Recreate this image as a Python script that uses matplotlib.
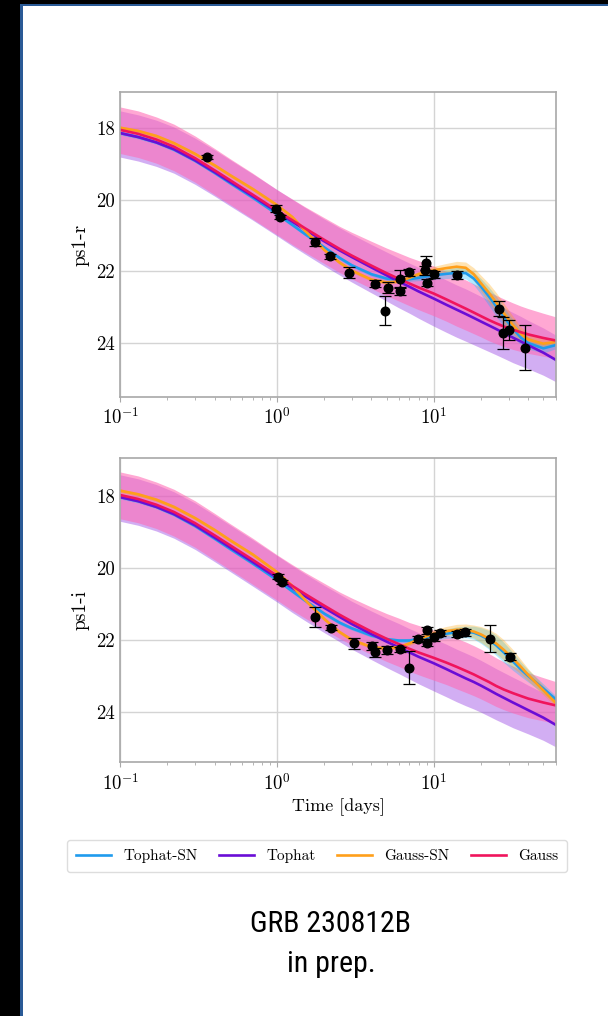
import matplotlib
matplotlib.use("Agg")
import matplotlib.pyplot as plt
from matplotlib.patches import Rectangle
from matplotlib.lines import Line2D

plt.rcParams['font.family'] = 'serif'
plt.rcParams['font.serif'] = ['cmr10']
plt.rcParams['mathtext.fontset'] = 'cm'
plt.rcParams['axes.unicode_minus'] = False

# ---------------- data ----------------
model_names = ["Tophat-SN", "Tophat", "Gauss-SN", "Gauss"]
model_colors = ["#1f9bed", "#6a0dd6", "#ff9f1a", "#f0145c"]
band_colors = ["#00bfff", "#8a2be2", "#ffa500", "#ff69b4"]

T = [0.1, 0.13, 0.17, 0.22, 0.3, 0.4, 0.5, 0.7, 1.0, 1.25, 1.5, 2.0, 2.5, 3.0, 4.0, 5.0, 6.0,
     7.0, 8.0, 10, 12, 14, 16, 18, 20, 22.5, 25, 28, 32, 36, 40, 50, 60]

# ps1-r model light curves
r_tophat_sn = [18.14, 18.25, 18.40, 18.60, 18.91, 19.25, 19.53, 19.94, 20.40, 20.70, 20.95,
               21.33, 21.62, 21.83, 22.08, 22.20, 22.24, 22.22, 22.18, 22.11, 22.07, 22.04,
               22.05, 22.20, 22.42, 22.70, 22.97, 23.27, 23.60, 23.85, 24.00, 24.15, 24.06]
r_tophat = [18.14, 18.25, 18.40, 18.59, 18.90, 19.23, 19.50, 19.90, 20.34, 20.61, 20.83,
            21.16, 21.41, 21.60, 21.89, 22.11, 22.29, 22.43, 22.56, 22.76, 22.93, 23.07,
            23.19, 23.30, 23.40, 23.51, 23.61, 23.72, 23.85, 23.96, 24.06, 24.27, 24.47]
r_gauss_sn = [17.99, 18.08, 18.22, 18.42, 18.72, 19.04, 19.31, 19.70, 20.15, 20.48, 20.85,
              21.40, 21.75, 21.98, 22.23, 22.31, 22.28, 22.18, 22.08, 21.97, 21.91, 21.87,
              21.90, 22.08, 22.33, 22.60, 22.87, 23.17, 23.50, 23.75, 23.90, 24.02, 23.97]
r_gauss = [18.05, 18.16, 18.32, 18.52, 18.84, 19.18, 19.45, 19.86, 20.30, 20.57, 20.79,
           21.12, 21.37, 21.56, 21.84, 22.05, 22.21, 22.34, 22.45, 22.62, 22.78, 22.92,
           23.04, 23.15, 23.25, 23.36, 23.45, 23.54, 23.63, 23.70, 23.76, 23.86, 23.93]

# ps1-i model light curves
i_tophat_sn = [18.04, 18.15, 18.31, 18.52, 18.84, 19.19, 19.47, 19.88, 20.34, 20.65, 20.90,
               21.27, 21.52, 21.68, 21.88, 21.98, 22.02, 22.02, 21.98, 21.90, 21.83, 21.79,
               21.78, 21.80, 21.88, 22.00, 22.15, 22.35, 22.60, 22.82, 23.00, 23.35, 23.65]
i_tophat = [18.04, 18.15, 18.31, 18.51, 18.82, 19.16, 19.43, 19.84, 20.28, 20.56, 20.78,
            21.11, 21.36, 21.56, 21.84, 22.05, 22.21, 22.35, 22.47, 22.65, 22.81, 22.95,
            23.07, 23.17, 23.27, 23.39, 23.50, 23.61, 23.74, 23.85, 23.95, 24.16, 24.36]
i_gauss_sn = [17.86, 17.96, 18.11, 18.31, 18.62, 18.95, 19.23, 19.63, 20.12, 20.50, 20.88,
              21.42, 21.78, 22.00, 22.20, 22.24, 22.20, 22.10, 21.98, 21.83, 21.76, 21.72,
              21.72, 21.77, 21.85, 21.97, 22.10, 22.28, 22.52, 22.75, 22.97, 23.40, 23.75]
i_gauss = [17.98, 18.09, 18.25, 18.45, 18.76, 19.10, 19.37, 19.78, 20.22, 20.50, 20.72,
           21.05, 21.30, 21.49, 21.77, 21.97, 22.12, 22.25, 22.35, 22.50, 22.63, 22.75,
           22.86, 22.96, 23.06, 23.17, 23.28, 23.38, 23.48, 23.56, 23.63, 23.74, 23.82]

# band half-widths (mag): brighter side / fainter side
gauss_up = [0.64, 0.64, 0.63, 0.63, 0.62, 0.61, 0.60, 0.60, 0.58, 0.59, 0.60, 0.62, 0.63,
            0.65, 0.68, 0.70, 0.72, 0.73, 0.75, 0.77, 0.78, 0.79, 0.80, 0.80, 0.80, 0.79,
            0.78, 0.77, 0.75, 0.73, 0.72, 0.69, 0.66]
gauss_dn = [0.66, 0.66, 0.66, 0.67, 0.67, 0.68, 0.68, 0.68, 0.68, 0.68, 0.67, 0.66, 0.66,
            0.65, 0.64, 0.63, 0.62, 0.62, 0.62, 0.62, 0.61, 0.61, 0.60, 0.59, 0.58, 0.58,
            0.57, 0.56, 0.55, 0.54, 0.53, 0.51, 0.50]
tophat_up = [0.62, 0.62, 0.62, 0.62, 0.62, 0.62, 0.62, 0.62, 0.62, 0.62, 0.62, 0.62, 0.63,
             0.63, 0.64, 0.65, 0.66, 0.66, 0.67, 0.68, 0.69, 0.69, 0.70, 0.70, 0.70, 0.70,
             0.70, 0.70, 0.70, 0.70, 0.69, 0.69, 0.69]
tophat_dn = [0.67, 0.67, 0.67, 0.67, 0.67, 0.67, 0.67, 0.67, 0.67, 0.68, 0.68, 0.69, 0.69,
             0.70, 0.71, 0.72, 0.73, 0.74, 0.75, 0.77, 0.77, 0.77, 0.76, 0.75, 0.74, 0.73,
             0.72, 0.71, 0.70, 0.68, 0.66, 0.63, 0.61]
sn_w = [0.05, 0.05, 0.05, 0.05, 0.05, 0.05, 0.05, 0.05, 0.05, 0.05, 0.05, 0.05, 0.05,
        0.05, 0.05, 0.05, 0.05, 0.06, 0.08, 0.11, 0.13, 0.15, 0.16, 0.18, 0.22, 0.26,
        0.28, 0.28, 0.25, 0.20, 0.17, 0.13, 0.10]

# observations ps1-r
r_obs_t = [0.356, 0.985, 1.045, 1.74, 2.18, 2.89, 4.2, 4.86, 5.1, 6.07, 6.07, 6.92,
           8.8, 8.97, 9.07, 10.1, 14.1, 26.1, 27.8, 30.4, 38.3]
r_obs_m = [18.81, 20.25, 20.48, 21.18, 21.58, 22.04, 22.34, 23.10, 22.46, 22.22, 22.55, 22.03,
           21.97, 21.76, 22.32, 22.08, 22.10, 23.04, 23.72, 23.64, 24.13]
r_obs_e = [0.05, 0.10, 0.05, 0.10, 0.07, 0.15, 0.10, 0.41, 0.15, 0.25, 0.12, 0.10,
           0.12, 0.19, 0.10, 0.10, 0.12, 0.20, 0.44, 0.28, 0.63]

# observations ps1-i
i_obs_t = [1.02, 1.07, 1.75, 2.21, 3.1, 4.06, 4.2, 5.03, 6.07, 6.98, 7.9, 9.03,
           9.07, 9.99, 10.97, 14.1, 15.9, 22.9, 30.5]
i_obs_m = [20.25, 20.39, 21.36, 21.66, 22.10, 22.17, 22.35, 22.28, 22.26, 22.77, 21.97, 21.74,
           22.08, 21.93, 21.82, 21.83, 21.79, 21.97, 22.47]
i_obs_e = [0.07, 0.05, 0.28, 0.08, 0.15, 0.12, 0.12, 0.12, 0.07, 0.45, 0.08, 0.10,
           0.10, 0.10, 0.08, 0.08, 0.10, 0.37, 0.10]

xticks = [0.1, 1, 10]
xtick_labels = [r'$10^{-1}$', r'$10^{0}$', r'$10^{1}$']
yticks = [18, 20, 22, 24]
ytick_labels = ['18', '20', '22', '24']

# ---------------- figure ----------------
fig = plt.figure(figsize=(6.08, 10.16), dpi=100)
fig.patch.set_facecolor('white')

W, H = 608.0, 1016.0
# slide frame
fig.add_artist(Rectangle((0, 0), 20 / W, 1, transform=fig.transFigure,
                         facecolor='black', edgecolor='none', zorder=0))
fig.add_artist(Rectangle((0, 1 - 4 / H), 1, 4 / H, transform=fig.transFigure,
                         facecolor='black', edgecolor='none', zorder=0))
fig.add_artist(Rectangle((20 / W, 0), 2.5 / W, 1 - 4 / H, transform=fig.transFigure,
                         facecolor='#2a5a96', edgecolor='none', zorder=0))
fig.add_artist(Rectangle((20 / W, 1 - 6 / H), 1 - 20 / W, 2 / H, transform=fig.transFigure,
                         facecolor='#2a5a96', edgecolor='none', zorder=0))

ax_r = fig.add_axes([120.3 / W, 1 - 396.7 / H, 435.4 / W, 304.4 / H])
ax_i = fig.add_axes([120.3 / W, 1 - 762.3 / H, 435.4 / W, 304.0 / H])

panels = [
    (ax_r, 'ps1-r', [r_tophat_sn, r_tophat, r_gauss_sn, r_gauss],
     r_obs_t, r_obs_m, r_obs_e, (25.5, 17.0)),
    (ax_i, 'ps1-i', [i_tophat_sn, i_tophat, i_gauss_sn, i_gauss],
     i_obs_t, i_obs_m, i_obs_e, (25.4, 16.96)),
]

for ax, lab, models, ot, om, oe, ylim in panels:
    tsn, th, gsn, g = models
    # credible bands
    ax.fill_between(T, [m - u for m, u in zip(th, tophat_up)],
                    [m + d for m, d in zip(th, tophat_dn)],
                    color=band_colors[1], alpha=0.38, lw=0, zorder=1)
    ax.fill_between(T, [m - u for m, u in zip(g, gauss_up)],
                    [m + d for m, d in zip(g, gauss_dn)],
                    color=band_colors[3], alpha=0.58, lw=0, zorder=1.1)
    ax.fill_between(T, [m - w for m, w in zip(tsn, sn_w)],
                    [m + w for m, w in zip(tsn, sn_w)],
                    color=band_colors[0], alpha=0.3, lw=0, zorder=1.2)
    ax.fill_between(T, [m - w for m, w in zip(gsn, sn_w)],
                    [m + w for m, w in zip(gsn, sn_w)],
                    color=band_colors[2], alpha=0.3, lw=0, zorder=1.3)
    # model lines
    for mdl, col, z in zip(models, model_colors, [2, 2.1, 2.2, 2.3]):
        ax.plot(T, mdl, color=col, lw=1.9, zorder=z, solid_joinstyle='round')
    # observations
    ax.errorbar(ot, om, yerr=oe, fmt='o', color='black', ms=6.2, elinewidth=0.9,
                capsize=4.2, capthick=0.9, zorder=5)

    ax.set_xscale('log')
    ax.set_xlim(0.1, 60)
    ax.set_ylim(*ylim)
    ax.set_xticks(xticks)
    ax.set_xticklabels(xtick_labels)
    ax.set_yticks(yticks)
    ax.set_yticklabels(ytick_labels)
    ax.set_axisbelow(True)
    ax.grid(True, which='major', color='#d4d4d4', lw=1.0)
    for s in ax.spines.values():
        s.set_color('#a8a8a8')
        s.set_linewidth(1.2)
    ax.tick_params(axis='x', which='major', length=3.5, color='#a8a8a8', labelsize=13.5, pad=4)
    ax.tick_params(axis='x', which='minor', length=2.5, color='#a8a8a8')
    ax.tick_params(axis='y', which='both', length=0, labelsize=13.5, pad=4)
    ax.set_ylabel(lab, fontsize=14, labelpad=5)

ax_i.set_xlabel('Time [days]', fontsize=13, labelpad=3)

handles = [Line2D([0], [0], color=c, lw=1.9) for c in model_colors]
leg = fig.legend(handles, model_names, loc='center', ncol=4,
                 bbox_to_anchor=(317 / W, 1 - 856 / H), fontsize=11,
                 frameon=True, fancybox=True, framealpha=1.0, edgecolor='#dddddd',
                 handlelength=2.3, columnspacing=1.4, handletextpad=0.8, borderpad=0.6)

sans = ['Roboto Condensed', 'Fira Sans Condensed', 'Ubuntu Condensed', 'Noto Sans']
fig.text(331 / W, 1 - 932 / H, 'GRB 230812B', ha='center', va='baseline',
         fontsize=21.5, family=sans, fontweight='normal', color='#000000')
fig.text(331 / W, 1 - 972 / H, 'in prep.', ha='center', va='baseline',
         fontsize=21.5, family=sans, fontweight='normal', color='#000000')

fig.savefig('out.png', dpi=100, facecolor='white')
